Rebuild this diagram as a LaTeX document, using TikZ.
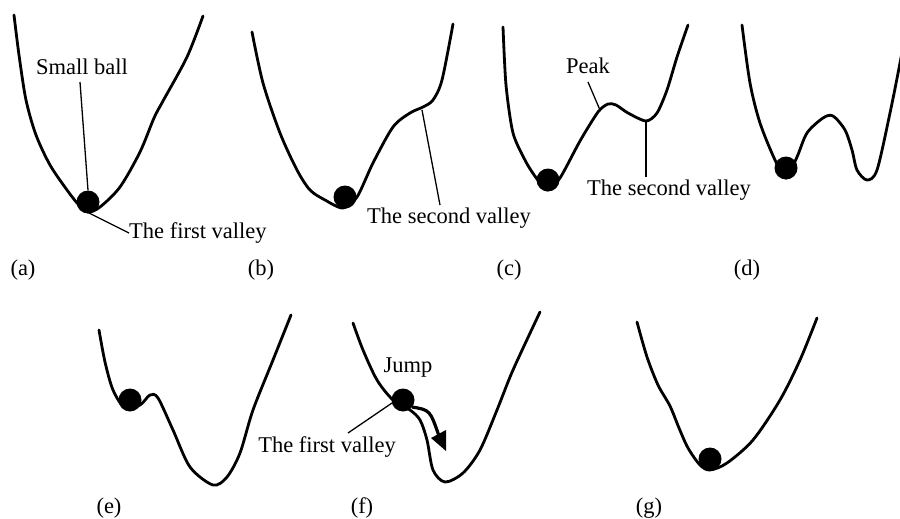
\documentclass[tikz,border=0pt]{standalone}
\usepackage{fontspec}
\setmainfont{Liberation Serif}
\begin{document}
\begin{tikzpicture}[x=1pt,y=-1pt,
  curve/.style={line width=2.8pt,line join=round,line cap=round},
  ball/.style={circle,fill=black,inner sep=0pt,minimum size=23pt},
  lbl/.style={inner sep=0pt,font=\fontsize{22.5}{26}\selectfont},
  leader/.style={line width=1.3pt},
  jumpshaft/.style={line width=3.2pt},
  jumphead/.style={fill=black}]
\useasboundingbox (0,0) rectangle (900,519);
\begin{scope}
\clip (0,0) rectangle (900,519);
% (a)
\draw[curve] plot[smooth,tension=0.5] coordinates {(14,15) (19,55) (26,100) (36,135) (50,165) (67,190) (78,204) (88,212) (100,207) (120,187) (140,152) (154,118) (163,101) (187,57) (203,16)};
\node[ball] (ballA) at (88,202) {};
% (b)
\draw[curve] plot[smooth,tension=0.5] coordinates {(252,32) (263,83) (280,133) (297,170) (310,190) (325,200) (343,208) (357,197) (373,163) (393,127) (410,113) (423,107) (433,100) (442,80) (453,24)};
\node[ball] (ballB) at (345,197) {};
% (c)
\draw[curve] plot[smooth,tension=0.45] coordinates {(503,27) (506,85) (513,133) (526,162) (537,179) (547,190) (560,178) (580,141) (598,112) (608,104) (616,105) (628,113) (646,121) (657,113) (667,90) (677,57) (688,25)};
\node[ball] (ballC) at (548,180) {};
% (d)
\draw[curve] plot[smooth,tension=0.5] coordinates {(742,25) (750,83) (760,123) (775,160) (786,178) (797,157) (807,133) (823,118) (833,116) (845,130) (852,150) (857,170) (867,180) (877,170) (890,113) (900,63) (907,25)};
\node[ball] (ballD) at (786,168) {};
% (e)
\draw[curve] plot[smooth,tension=0.5] coordinates {(99,330) (105,362) (113,390) (125,408) (140,405) (150,395) (158,398) (173,430) (190,467) (213,485) (227,477) (240,453) (253,410) (273,360) (291,315)};
\node[ball] (ballE) at (130,400) {};
% (f)
\draw[curve] plot[smooth,tension=0.5] coordinates {(353,323) (363,350) (377,380) (393,400) (410,410) (420,420) (427,440) (433,470) (445,482) (463,473) (480,450) (497,410) (513,370) (540,312)};
\node[ball] (ballF) at (403,400) {};
% (g)
\draw[curve] plot[smooth,tension=0.5] coordinates {(637,322) (647,357) (658,385) (670,406) (679,428) (688,448) (700,465) (710,470) (727,463) (753,440) (780,400) (800,360) (817,318)};
\node[ball] (ballG) at (710,459) {};
\end{scope}
% labels (a)
\node[lbl] (smallball) at (82,67) {Small ball};
\draw[leader] (80,82) -- (ballA.north);
\node[lbl,anchor=west] (firstA) at (129,233) {The first valley};
\coordinate (pA) at (89,213);
\draw[leader] (pA) -- (firstA.west);
% labels (b)
\node[lbl] (secondB) at (449,218) {The second valley};
\coordinate (pB) at (422,110);
\draw[leader] (pB) -- (440,205);
% labels (c)
\node[lbl] (peak) at (588,66) {Peak};
\coordinate (pPeak) at (600,110);
\draw[leader] (588,82) -- (pPeak);
\node[lbl] (secondC) at (669,190) {The second valley};
\coordinate (pC) at (646,121);
\draw[leader] (pC) -- (646,177);
% labels (f)
\node[lbl] (jump) at (408,368) {Jump};
\node[lbl] (firstF) at (327,447) {The first valley};
\coordinate (pF) at (392,403);
\draw[leader] (348,433) -- (pF);
\coordinate (shaftEnd) at (439,436);
\draw[jumpshaft] (412,407) .. controls (430,410) .. (shaftEnd);
\fill[jumphead] (431,438) -- (446,430) -- (446,451) -- cycle;
% sub-captions
\node[lbl] (capa) at (23,270) {(a)};
\node[lbl] (capb) at (261,270) {(b)};
\node[lbl] (capc) at (509,270) {(c)};
\node[lbl] (capd) at (747,270) {(d)};
\node[lbl] (cape) at (109,508) {(e)};
\node[lbl] (capf) at (362,508) {(f)};
\node[lbl] (capg) at (649,508) {(g)};
\end{tikzpicture}
\end{document}
